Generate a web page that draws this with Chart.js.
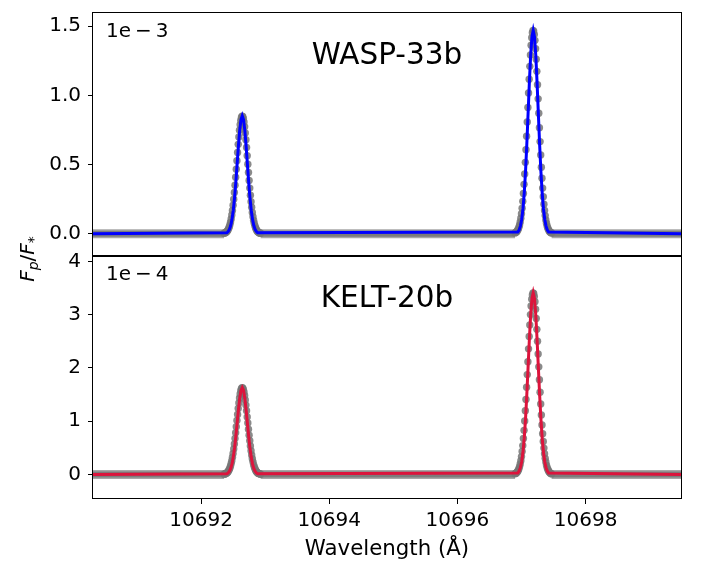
<!DOCTYPE html>
<html><head><meta charset="utf-8">
<script src="https://cdn.jsdelivr.net/npm/chart.js@4/dist/chart.umd.min.js"></script>
<style>
html,body{margin:0;padding:0;background:#fff;}
#wrap{position:relative;width:702px;height:562px;overflow:hidden;font-family:'DejaVu Sans',sans-serif;color:#000;}
canvas{position:absolute;left:0;}
#c1{top:0;}
#c2{top:236px;}
.t{position:absolute;white-space:nowrap;line-height:1;}
.title{font-size:29.5px;transform:translateX(-50%);}
.off{font-size:20px;}
#ylab{font-size:20px;left:27px;top:259px;transform:translate(-50%,-50%) rotate(-90deg);}
#ylab i{font-style:italic;}
#ylab sub{font-size:14px;vertical-align:-4px;line-height:0;}
</style></head>
<body><div id="wrap">
<canvas id="c1" width="702" height="256"></canvas>
<canvas id="c2" width="702" height="326"></canvas>
<div class="t title" style="left:387px;top:40px">WASP-33b</div>
<div class="t title" style="left:387px;top:283px">KELT-20b</div>
<div class="t off" style="left:106px;top:20px">1e&#8201;&#8722;&#8201;3</div>
<div class="t off" style="left:106px;top:263px">1e&#8201;&#8722;&#8201;4</div>
<div class="t" id="ylab"><i>F</i><sub><i>p</i></sub>/<i>F</i><sub>*</sub></div>
</div>
<script>
// ---- data ----
const xRange = [10690.314, 10699.489];
const xTicks = [10692, 10694, 10696, 10698];
const waspYRange = [-0.161, 1.603];   // x 1e-3
const keltYRange = [-0.46, 4.1];      // x 1e-4
const waspYTicks = [0, 0.5, 1.0, 1.5];
const keltYTicks = [0, 1, 2, 3, 4];

// flat (zero) parts of the observed/simulated points, as wavelength segments
const baseWave = [10690.314, 10692.36, 10692.93, 10696.90, 10697.47, 10699.489];

const waveGray1 = [10692.36,10692.37,10692.38,10692.39,10692.40,10692.41,10692.42,10692.43,10692.44,10692.45,10692.46,10692.47,10692.48,10692.49,10692.50,10692.51,10692.52,10692.53,10692.54,10692.55,10692.56,10692.57,10692.58,10692.59,10692.60,10692.61,10692.62,10692.63,10692.64,10692.65,10692.66,10692.67,10692.68,10692.69,10692.70,10692.71,10692.72,10692.73,10692.74,10692.75,10692.76,10692.77,10692.78,10692.79,10692.80,10692.81,10692.82,10692.83,10692.84,10692.85,10692.86,10692.87,10692.88,10692.89,10692.90,10692.91,10692.92,10692.93];
const waveGray2 = [10696.90,10696.91,10696.92,10696.93,10696.94,10696.95,10696.96,10696.97,10696.98,10696.99,10697.00,10697.01,10697.02,10697.03,10697.04,10697.05,10697.06,10697.07,10697.08,10697.09,10697.10,10697.11,10697.12,10697.13,10697.14,10697.15,10697.16,10697.17,10697.18,10697.19,10697.20,10697.21,10697.22,10697.23,10697.24,10697.25,10697.26,10697.27,10697.28,10697.29,10697.30,10697.31,10697.32,10697.33,10697.34,10697.35,10697.36,10697.37,10697.38,10697.39,10697.40,10697.41,10697.42,10697.43,10697.44,10697.45,10697.46,10697.47];

const waspGray1 = [0.003,0.005,0.007,0.010,0.014,0.020,0.027,0.037,0.049,0.065,0.084,0.107,0.135,0.168,0.206,0.250,0.298,0.351,0.408,0.467,0.528,0.588,0.646,0.700,0.748,0.788,0.819,0.840,0.849,0.847,0.833,0.808,0.773,0.729,0.679,0.623,0.564,0.503,0.443,0.385,0.330,0.278,0.232,0.191,0.154,0.123,0.097,0.076,0.058,0.044,0.033,0.024,0.017,0.012,0.009,0.006,0.004,0.003];
const waspGray2 = [0.006,0.009,0.012,0.017,0.025,0.034,0.047,0.064,0.085,0.112,0.145,0.185,0.234,0.291,0.357,0.432,0.516,0.608,0.705,0.808,0.913,1.017,1.117,1.210,1.293,1.363,1.417,1.453,1.469,1.465,1.441,1.398,1.337,1.262,1.174,1.077,0.975,0.871,0.766,0.666,0.570,0.481,0.401,0.330,0.267,0.213,0.168,0.131,0.100,0.076,0.056,0.042,0.030,0.022,0.015,0.011,0.007,0.005];
const keltGray1 = [0.006,0.009,0.014,0.019,0.027,0.038,0.052,0.071,0.094,0.124,0.161,0.205,0.259,0.323,0.396,0.479,0.572,0.674,0.782,0.896,1.012,1.127,1.238,1.342,1.434,1.512,1.571,1.611,1.629,1.624,1.598,1.550,1.483,1.399,1.302,1.195,1.081,0.965,0.850,0.738,0.632,0.534,0.445,0.365,0.296,0.237,0.186,0.145,0.111,0.084,0.063,0.046,0.033,0.024,0.017,0.012,0.008,0.005];
const keltGray2 = [0.013,0.020,0.028,0.041,0.057,0.080,0.109,0.148,0.197,0.259,0.336,0.430,0.542,0.675,0.828,1.003,1.197,1.409,1.636,1.874,2.117,2.358,2.591,2.807,3.000,3.162,3.287,3.370,3.408,3.398,3.342,3.242,3.102,2.926,2.724,2.499,2.262,2.020,1.778,1.544,1.322,1.117,0.930,0.765,0.619,0.495,0.390,0.303,0.233,0.176,0.131,0.097,0.070,0.050,0.035,0.025,0.017,0.011];

const waveModel1 = [10692.403,10692.423,10692.443,10692.463,10692.483,10692.503,10692.523,10692.543,10692.563,10692.583,10692.603,10692.623,10692.643,10692.663,10692.683,10692.703,10692.723,10692.743,10692.763,10692.783,10692.803,10692.823,10692.843,10692.863,10692.883];
const waveModel2 = [10696.943,10696.963,10696.983,10697.003,10697.023,10697.043,10697.063,10697.083,10697.103,10697.123,10697.143,10697.163,10697.183,10697.203,10697.223,10697.243,10697.263,10697.283,10697.303,10697.323,10697.343,10697.363,10697.383,10697.403,10697.423];
const waspModel1 = [0.007,0.016,0.032,0.059,0.104,0.170,0.261,0.375,0.504,0.634,0.747,0.824,0.852,0.824,0.747,0.634,0.504,0.375,0.261,0.170,0.104,0.059,0.032,0.016,0.007];
const waspModel2 = [0.013,0.027,0.055,0.103,0.179,0.294,0.450,0.646,0.869,1.094,1.289,1.423,1.470,1.423,1.289,1.094,0.869,0.646,0.450,0.294,0.179,0.103,0.055,0.027,0.013];
const keltModel1 = [0.014,0.030,0.061,0.114,0.199,0.326,0.499,0.717,0.963,1.213,1.429,1.577,1.630,1.577,1.429,1.213,0.963,0.717,0.499,0.326,0.199,0.114,0.061,0.030,0.014];
const keltModel2 = [0.030,0.064,0.128,0.238,0.416,0.681,1.044,1.499,2.015,2.537,2.990,3.300,3.410,3.300,2.990,2.537,2.015,1.499,1.044,0.681,0.416,0.238,0.128,0.064,0.030];

// ---- builders ----
function pts(xs, ys){ return xs.map((x,i)=>({x:x, y:ys[i]})); }
function bandData(){
  const d=[];
  for(let i=0;i<baseWave.length;i+=2){
    d.push({x:baseWave[i],y:0},{x:baseWave[i+1],y:0});
    if(i+2<baseWave.length) d.push({x:(baseWave[i+1]+baseWave[i+2])/2,y:null});
  }
  return d;
}
function modelData(m1,m2){
  return [{x:xRange[0],y:0}].concat(pts(waveModel1,m1), pts(waveModel2,m2), [{x:xRange[1],y:0}]);
}

const framePlugin = {
  id:'frame',
  afterDatasetsDraw(chart){
    const {ctx, chartArea:a} = chart;
    ctx.save(); ctx.strokeStyle='#000'; ctx.lineWidth=1;
    ctx.strokeRect(Math.round(a.left)-0.5, Math.round(a.top)+0.5, Math.round(a.right-a.left)+1, Math.round(a.bottom-a.top)-1);
    ctx.restore();
  }
};

Chart.defaults.font.family = "'DejaVu Sans', sans-serif";
Chart.defaults.font.size = 20;
Chart.defaults.color = '#000';

function makeChart(canvas, cfg){
  const datasets = [
    {type:'scatter', data: modelData(cfg.m1,cfg.m2), showLine:true, borderColor:cfg.color, borderWidth:3, pointRadius:0, fill:false, order:1},
    {type:'scatter', data: pts(waveGray1,cfg.g1).concat(pts(waveGray2,cfg.g2)), showLine:false, pointRadius:3.7, pointBorderWidth:0, backgroundColor:'rgba(118,118,118,0.85)', pointBackgroundColor:'rgba(118,118,118,0.85)', order:2},
    {type:'scatter', data: bandData(), showLine:true, spanGaps:false, borderColor:'#7c7c7c', borderWidth:6, pointRadius:0, order:3},
    {type:'scatter', data: bandData(), showLine:true, spanGaps:false, borderColor:'#a8a8a8', borderWidth:9, pointRadius:0, order:4}
  ];
  return new Chart(canvas, {
    type:'scatter',
    data:{datasets},
    plugins:[framePlugin],
    options:{
      responsive:false, animation:false, events:[],
      layout:{autoPadding:false, padding:{top:cfg.padTop, right:21, left:0, bottom:0}},
      plugins:{legend:{display:false}, tooltip:{enabled:false}},
      scales:{
        x:{
          type:'linear', min:xRange[0], max:xRange[1], display:cfg.showX,
          afterBuildTicks: s => { s.ticks = xTicks.map(v=>({value:v})); },
          afterFit: s => { s.height = cfg.showX ? 63 : 0; s.paddingLeft = 0; s.paddingRight = 0; },
          ticks:{callback: v => String(v), padding:5, maxRotation:0, autoSkip:false, font:{size:20}},
          grid:{drawOnChartArea:false, drawTicks:true, tickLength:5, color:'#000', lineWidth:1},
          border:{display:false},
          title:{display:true, text:'Wavelength (Å)', font:{size:21.3}, padding:{top:0,bottom:0}}
        },
        y:{
          type:'linear', min:cfg.yRange[0], max:cfg.yRange[1],
          afterBuildTicks: s => { s.ticks = cfg.yTicks.map(v=>({value:v})); },
          afterFit: s => { s.width = 93; s.paddingTop = 0; s.paddingBottom = 0; },
          ticks:{callback: cfg.fmt, padding:7, autoSkip:false, font:{size:20}},
          grid:{drawOnChartArea:false, drawTicks:true, tickLength:5, color:'#000', lineWidth:1},
          border:{display:false}
        }
      }
    }
  });
}

makeChart(document.getElementById('c1'), {
  m1:waspModel1, m2:waspModel2, g1:waspGray1, g2:waspGray2, color:'#0000ff',
  yRange:waspYRange, yTicks:waspYTicks, fmt: v => v.toFixed(1), padTop:12, showX:false
});
makeChart(document.getElementById('c2'), {
  m1:keltModel1, m2:keltModel2, g1:keltGray1, g2:keltGray2, color:'#dc143c',
  yRange:keltYRange, yTicks:keltYTicks, fmt: v => String(v), padTop:20, showX:true
});
</script>
</body></html>
